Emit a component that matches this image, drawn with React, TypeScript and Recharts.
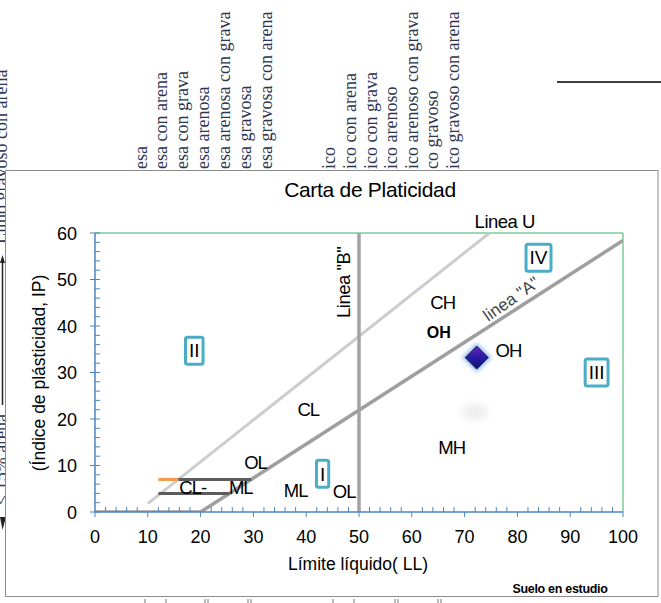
import {
  ComposedChart,
  Line,
  ReferenceDot,
  ReferenceLine,
  Scatter,
  XAxis,
  YAxis,
} from 'recharts'

// Marcas principales de los ejes
const marcasLL = [0, 10, 20, 30, 40, 50, 60, 70, 80, 90, 100]
const marcasIP = [0, 10, 20, 30, 40, 50, 60]
// subdivisiones cada 2 unidades (las principales se reconocen por ser múltiplos de 10)
const subMarcasLL = Array.from({ length: 51 }, (_, i) => i * 2)
const subMarcasIP = Array.from({ length: 31 }, (_, i) => i * 2)

// Líneas de la carta (LL, IP)
const lineaA = [
  { ll: 0, ip: 0 },
  { ll: 20, ip: 0 },
  { ll: 100, ip: 58.4 },
]
const lineaU = [
  { ll: 10, ip: 1.8 },
  { ll: 74.7, ip: 60 },
]
const lineaB = [
  { ll: 50, ip: 0 },
  { ll: 50, ip: 60 },
]
const franjaIP7Naranja = [
  { ll: 12, ip: 7 },
  { ll: 15.8, ip: 7 },
]
const franjaIP7 = [
  { ll: 15.8, ip: 7 },
  { ll: 29.6, ip: 7 },
]
const franjaIP4 = [
  { ll: 12, ip: 4 },
  { ll: 25.5, ip: 4 },
]

// Muestra analizada
const suelo = [{ ll: 72.3, ip: 33.2 }]

// Zonas numeradas
const zonas = [
  { t: 'I', ll: 43.1, ip: 8.2 },
  { t: 'II', ll: 18.8, ip: 34.7 },
  { t: 'III', ll: 95, ip: 30 },
  { t: 'IV', ll: 84, ip: 54.7 },
]

// Símbolos de grupo
const simbolos = [
  { t: 'CH', ll: 65.85, ip: 45 },
  { t: 'OH', ll: 78.3, ip: 34.8 },
  { t: 'CL', ll: 40.4, ip: 22 },
  { t: 'OL', ll: 30.4, ip: 10.6 },
  { t: 'CL-', ll: 18.5, ip: 5.3 },
  { t: 'ML', ll: 27.6, ip: 5.3 },
  { t: 'ML', ll: 38, ip: 4.7 },
  { t: 'OL', ll: 47.2, ip: 4.4 },
  { t: 'MH', ll: 67.55, ip: 14 },
]
const simboloNegrita = { t: 'OH', ll: 65.1, ip: 38.75 }

// Rótulos de las líneas
const rotuloU = { t: 'Linea U', ll: 77.6, ip: 62.5 }
const rotuloB = { t: 'Linea "B"', ll: 47, ip: 49.4 }
const rotuloA = { t: 'linea "A"', ll: 78.8, ip: 45.9 }

// Encabezados de columnas de la hoja que asoman sobre el gráfico
const columnasIzq = [
  'esa',
  'esa con arena',
  'esa con grava',
  'esa arenosa',
  'esa arenosa con grava',
  'esa gravosa',
  'esa gravosa con arena',
]
const columnasDer = [
  'ico',
  'ico con arena',
  'ico con grava',
  'ico arenoso',
  'ico arenoso con grava',
  'co gravoso',
  'ico gravoso con arena',
]

const FUENTE = '"Liberation Sans", Arial, sans-serif'
const SERIF = '"Liberation Serif", "Times New Roman", serif'
const AZUL = '#4a86c5'
const VERDE = '#37b565'
const TURQUESA = '#4bacc6'
const TEXTO_HOJA = '#2b3550'

function TickLL(props: any) {
  const { x, y, payload } = props
  const v = payload.value
  const mayor = v % 10 === 0
  return (
    <g>
      <line x1={x} x2={x} y1={mayor ? y : y - 5} y2={mayor ? y + 5 : y} stroke={AZUL} strokeWidth={1} />
      {mayor && (
        <text x={x} y={y + 31} textAnchor="middle" fontFamily={FUENTE} fontSize={18} fill="#000">
          {v}
        </text>
      )}
    </g>
  )
}

function TickIP(props: any) {
  const { x, y, payload } = props
  const v = payload.value
  const mayor = v % 10 === 0
  return (
    <g>
      <line x1={mayor ? x - 5 : x} x2={x + 5} y1={y} y2={y} stroke={AZUL} strokeWidth={1} />
      {mayor && (
        <text x={x - 18} y={y + 6.5} textAnchor="end" fontFamily={FUENTE} fontSize={18} fill="#000">
          {v}
        </text>
      )}
    </g>
  )
}

// ancho aproximado de numerales romanos en Arial
const anchoRomano = (t: string, fs: number) =>
  t.split('').reduce((s, c) => s + (c === 'V' ? 0.667 : 0.278), 0) * fs

function Zona({ cx, cy, t }: { cx: number; cy: number; t: string }) {
  const w = anchoRomano(t, 19) + 7
  return (
    <g>
      <rect x={cx - w / 2} y={cy - 13.5} width={w} height={27} rx={2} fill="#fff" stroke={TURQUESA} strokeWidth={3} />
      <text x={cx} y={cy} dy="0.36em" textAnchor="middle" fontFamily={FUENTE} fontSize={19} fill="#000">
        {t}
      </text>
    </g>
  )
}

function Rotulo({
  cx,
  cy,
  t,
  size = 18.5,
  peso = 400,
  angulo = 0,
  color = '#000',
  espaciado = -1,
}: {
  cx: number
  cy: number
  t: string
  size?: number
  peso?: number
  angulo?: number
  color?: string
  espaciado?: number
}) {
  return (
    <text
      transform={`translate(${cx},${cy}) rotate(${angulo})`}
      dy="0.36em"
      textAnchor="middle"
      fontFamily={FUENTE}
      fontSize={size}
      fontWeight={peso}
      letterSpacing={espaciado}
      fill={color}
    >
      {t}
    </text>
  )
}

function Rombo({ cx, cy }: any) {
  const h = 11.5
  const puntos = (r: number) => `${cx},${cy - r} ${cx + r},${cy} ${cx},${cy + r} ${cx - r},${cy}`
  return (
    <g>
      <defs>
        <linearGradient id="degradadoRombo" x1="0" y1="0" x2="0" y2="1">
          <stop offset="0" stopColor="#6a22c4" />
          <stop offset="0.5" stopColor="#2a1aa2" />
          <stop offset="1" stopColor="#0c1470" />
        </linearGradient>
        <filter id="halo" x="-60%" y="-60%" width="220%" height="220%">
          <feGaussianBlur stdDeviation="2.2" />
        </filter>
      </defs>
      <polygon points={puntos(h + 3)} fill="#8fb8ee" filter="url(#halo)" />
      <polygon points={puntos(h)} fill="url(#degradadoRombo)" stroke="#1b1b55" strokeWidth={1} />
    </g>
  )
}

function Fondo() {
  return (
    <svg width={661} height={603} style={{ position: 'absolute', left: 0, top: 0 }}>
      <defs>
        <filter id="mancha" x="-100%" y="-100%" width="300%" height="300%">
          <feGaussianBlur stdDeviation="4" />
        </filter>
      </defs>
      {columnasIzq.map((c, i) => (
        <text
          key={'i' + i}
          transform={`translate(${146.5 + i * 20.85},169) rotate(-90)`}
          fontFamily={SERIF}
          fontSize={18}
          fill={TEXTO_HOJA}
        >
          {c}
        </text>
      ))}
      {columnasDer.map((c, i) => (
        <text
          key={'d' + i}
          transform={`translate(${335.4 + i * 20.6},169) rotate(-90)`}
          fontFamily={SERIF}
          fontSize={18}
          fill={TEXTO_HOJA}
        >
          {c}
        </text>
      ))}
      {/* franja izquierda de la hoja */}
      <text transform="translate(7,244) rotate(-90)" fontFamily={SERIF} fontSize={18} fill={TEXTO_HOJA}>
        Limo gravoso con arena
      </text>
      <line x1={2.5} x2={2.5} y1={262} y2={405} stroke="#222" strokeWidth={1.5} />
      <polygon points="2.5,255 0,263 5,263" fill="#222" />
      <text transform="translate(7,505) rotate(-90)" fontFamily={SERIF} fontSize={18} fill={TEXTO_HOJA}>
        {'< 15% arena'}
      </text>
      <polygon points="2.5,530 0,517 6,517" fill="#222" />
      <line x1={557} x2={661} y1={82} y2={82} stroke="#000" strokeWidth={1.5} />
      {[145, 166, 205, 208, 248, 251, 333, 354, 395, 398, 438, 441].map((x, i) => (
        <line key={'m' + i} x1={x} x2={x} y1={599} y2={603} stroke="#8a8a8a" strokeWidth={1.2} />
      ))}

      {/* marco del gráfico */}
      <rect x={5.5} y={170.5} width={652.5} height={426} fill="#fff" stroke="#8c8c8c" strokeWidth={1} />
      <ellipse cx={475} cy={412} rx={13} ry={8} fill="#ececec" filter="url(#mancha)" />

      <text x={370} y={196.7} textAnchor="middle" fontFamily={FUENTE} fontSize={21} fill="#000" letterSpacing={-0.3}>
        Carta de Platicidad
      </text>
      <text
        transform="translate(44.5,373) rotate(-90)"
        textAnchor="middle"
        fontFamily={FUENTE}
        fontSize={17.5}
        fill="#000"
      >
        (Índice de plásticidad, IP)
      </text>
      <text x={358} y={569.5} textAnchor="middle" fontFamily={FUENTE} fontSize={17.5} fill="#000">
        Límite líquido( LL)
      </text>
      <text
        x={560}
        y={593}
        textAnchor="middle"
        fontFamily={FUENTE}
        fontSize={12.5}
        fontWeight={700}
        letterSpacing={-0.3}
        fill="#000"
      >
        Suelo en estudio
      </text>
    </svg>
  )
}

export default function App() {
  return (
    <div style={{ position: 'absolute', left: 0, top: 0, width: 661, height: 603, background: '#fff' }}>
      <Fondo />
      <div style={{ position: 'absolute', left: 0, top: 0 }}>
        <ComposedChart width={661} height={603} margin={{ top: 233, right: 38, bottom: 31, left: 5 }}>
          <XAxis
            type="number"
            dataKey="ll"
            domain={[0, 100]}
            allowDataOverflow
            ticks={subMarcasLL}
            interval={0}
            tickSize={0}
            tickMargin={0}
            tickLine={false}
            tick={(p: any) => <TickLL {...p} />}
            axisLine={{ stroke: AZUL, strokeWidth: 1.5 }}
            height={60}
          />
          <YAxis
            type="number"
            dataKey="ip"
            domain={[0, 60]}
            allowDataOverflow
            ticks={subMarcasIP}
            interval={0}
            tickSize={0}
            tickMargin={0}
            tickLine={false}
            tick={(p: any) => <TickIP {...p} />}
            axisLine={{ stroke: AZUL, strokeWidth: 1.5 }}
            width={90}
          />
          <ReferenceLine y={marcasIP[marcasIP.length - 1]} stroke={VERDE} strokeWidth={1} />
          <ReferenceLine x={marcasLL[marcasLL.length - 1]} stroke={VERDE} strokeWidth={1} />

          <Line data={lineaU} dataKey="ip" type="linear" stroke="#cdcdcd" strokeWidth={3} dot={false} isAnimationActive={false} />
          <Line data={lineaA} dataKey="ip" type="linear" stroke="#9f9f9f" strokeWidth={3.5} dot={false} isAnimationActive={false} />
          <Line data={lineaB} dataKey="ip" type="linear" stroke="#a3a3a3" strokeWidth={3.5} dot={false} isAnimationActive={false} />
          <Line data={franjaIP7Naranja} dataKey="ip" type="linear" stroke="#f79646" strokeWidth={3} dot={false} isAnimationActive={false} />
          <Line data={franjaIP7} dataKey="ip" type="linear" stroke="#5c5c5c" strokeWidth={3} dot={false} isAnimationActive={false} />
          <Line data={franjaIP4} dataKey="ip" type="linear" stroke="#5c5c5c" strokeWidth={3} dot={false} isAnimationActive={false} />

          {zonas.map((z, i) => (
            <ReferenceDot
              key={'z' + i}
              x={z.ll}
              y={z.ip}
              ifOverflow="visible"
              shape={(p: any) => <Zona cx={p.cx} cy={p.cy} t={z.t} />}
            />
          ))}
          {simbolos.map((s, i) => (
            <ReferenceDot
              key={'s' + i}
              x={s.ll}
              y={s.ip}
              ifOverflow="visible"
              shape={(p: any) => <Rotulo cx={p.cx} cy={p.cy} t={s.t} />}
            />
          ))}
          <ReferenceDot
            x={simboloNegrita.ll}
            y={simboloNegrita.ip}
            ifOverflow="visible"
            shape={(p: any) => <Rotulo cx={p.cx} cy={p.cy} t={simboloNegrita.t} size={16} peso={700} espaciado={0} />}
          />
          <ReferenceDot
            x={rotuloU.ll}
            y={rotuloU.ip}
            ifOverflow="visible"
            shape={(p: any) => <Rotulo cx={p.cx} cy={p.cy} t={rotuloU.t} espaciado={-0.5} />}
          />
          <ReferenceDot
            x={rotuloB.ll}
            y={rotuloB.ip}
            ifOverflow="visible"
            shape={(p: any) => <Rotulo cx={p.cx} cy={p.cy} t={rotuloB.t} angulo={-90} espaciado={-0.5} />}
          />
          <ReferenceDot
            x={rotuloA.ll}
            y={rotuloA.ip}
            ifOverflow="visible"
            shape={(p: any) => (
              <Rotulo cx={p.cx} cy={p.cy} t={rotuloA.t} angulo={-35} size={17} color="#444" espaciado={0} />
            )}
          />

          <Scatter name="Suelo en estudio" data={suelo} dataKey="ip" shape={(p: any) => <Rombo {...p} />} isAnimationActive={false} />
        </ComposedChart>
      </div>
    </div>
  )
}
